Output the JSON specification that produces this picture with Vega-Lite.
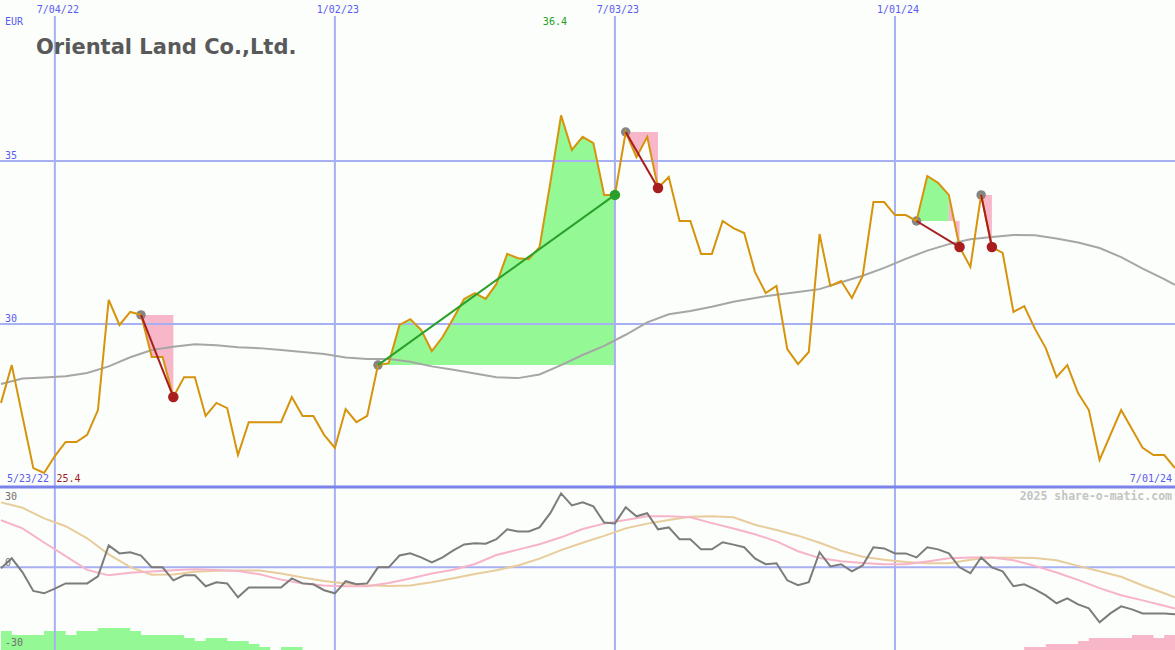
{
"$schema": "https://vega.github.io/schema/vega-lite/v6.json",
"autosize": {"type": "none"},
"padding": 0,
"width": 1175,
"height": 650,
"background": "#fbfefb",
"config": {"view": {"stroke": null}, "font": "DejaVu Sans Mono"},
"resolve": {"scale": {"y": "independent"}},
"datasets": {
"vg": [{"d": "2022-07-04", "lab": "7/04/22"}, {"d": "2023-01-02", "lab": "1/02/23"}, {"d": "2023-07-03", "lab": "7/03/23"}, {"d": "2024-01-01", "lab": "1/01/24"}],
"wk": [
{"d":"2022-05-30","c":27.58,"o":-0.4},{"d":"2022-06-06","c":28.74,"o":3.8},{"d":"2022-06-13","c":27.15,"o":-2.1},{"d":"2022-06-20","c":25.58,"o":-10},{"d":"2022-06-27","c":25.43,"o":-11},
{"d":"2022-07-04","c":25.95,"o":-9},{"d":"2022-07-11","c":26.38,"o":-6.8},{"d":"2022-07-18","c":26.38,"o":-6.8},{"d":"2022-07-25","c":26.6,"o":-6.8},{"d":"2022-08-01","c":27.36,"o":-3.8},
{"d":"2022-08-08","c":30.74,"o":9.3},{"d":"2022-08-15","c":29.97,"o":5.9},{"d":"2022-08-22","c":30.37,"o":6.4},{"d":"2022-08-29","c":30.28,"o":5},{"d":"2022-09-05","c":28.99,"o":0},
{"d":"2022-09-12","c":28.99,"o":0},{"d":"2022-09-19","c":27.76,"o":-5.5},{"d":"2022-09-26","c":28.37,"o":-3.4},{"d":"2022-10-03","c":28.37,"o":-3.4},{"d":"2022-10-10","c":27.18,"o":-8},
{"d":"2022-10-17","c":27.58,"o":-6.3},{"d":"2022-10-24","c":27.42,"o":-6.8},{"d":"2022-10-31","c":25.98,"o":-12.7},{"d":"2022-11-07","c":26.99,"o":-8.5},{"d":"2022-11-14","c":26.99,"o":-8.5},
{"d":"2022-11-21","c":26.99,"o":-8.5},{"d":"2022-11-28","c":26.99,"o":-8.5},{"d":"2022-12-05","c":27.76,"o":-4.7},{"d":"2022-12-12","c":27.18,"o":-6.8},{"d":"2022-12-19","c":27.18,"o":-7.2},
{"d":"2022-12-26","c":26.6,"o":-9.7},{"d":"2023-01-02","c":26.2,"o":-11},{"d":"2023-01-09","c":27.39,"o":-5.9},{"d":"2023-01-16","c":26.99,"o":-7.2},{"d":"2023-01-23","c":27.18,"o":-6.8},
{"d":"2023-01-30","c":28.74,"o":0},{"d":"2023-02-06","c":28.8,"o":0},{"d":"2023-02-13","c":29.97,"o":5},{"d":"2023-02-20","c":30.15,"o":5.9},{"d":"2023-02-27","c":29.82,"o":4.2},
{"d":"2023-03-06","c":29.17,"o":2.1},{"d":"2023-03-13","c":29.6,"o":4.2},{"d":"2023-03-20","c":30.18,"o":7.2},{"d":"2023-03-27","c":30.77,"o":9.7},{"d":"2023-04-03","c":30.95,"o":10.2},
{"d":"2023-04-10","c":30.77,"o":10},{"d":"2023-04-17","c":31.23,"o":11.9},{"d":"2023-04-24","c":32.15,"o":16.1},{"d":"2023-05-01","c":32.02,"o":15.2},{"d":"2023-05-08","c":31.99,"o":15.2},
{"d":"2023-05-15","c":32.36,"o":16.9},{"d":"2023-05-22","c":34.33,"o":22.9},{"d":"2023-05-29","c":36.4,"o":31.3},{"d":"2023-06-05","c":35.34,"o":26.2},{"d":"2023-06-12","c":35.74,"o":27.5},
{"d":"2023-06-19","c":35.55,"o":25.8},{"d":"2023-06-26","c":33.96,"o":19},{"d":"2023-07-03","c":33.96,"o":18.6},{"d":"2023-07-10","c":35.89,"o":25.4},{"d":"2023-07-17","c":35.12,"o":21.6},
{"d":"2023-07-24","c":35.74,"o":22.9},{"d":"2023-07-31","c":34.17,"o":16.1},{"d":"2023-08-07","c":34.51,"o":16.9},{"d":"2023-08-14","c":33.16,"o":11.9},{"d":"2023-08-21","c":33.16,"o":11.9},
{"d":"2023-08-28","c":32.15,"o":7.6},{"d":"2023-09-04","c":32.15,"o":7.6},{"d":"2023-09-11","c":33.16,"o":10.6},{"d":"2023-09-18","c":32.94,"o":9.6},{"d":"2023-09-25","c":32.79,"o":8.5},
{"d":"2023-10-02","c":31.6,"o":3.8},{"d":"2023-10-09","c":30.95,"o":1.3},{"d":"2023-10-16","c":31.17,"o":1.7},{"d":"2023-10-23","c":29.23,"o":-5.5},{"d":"2023-10-30","c":28.77,"o":-7.6},
{"d":"2023-11-06","c":29.14,"o":-6.3},{"d":"2023-11-13","c":32.76,"o":6.4},{"d":"2023-11-20","c":31.17,"o":0.4},{"d":"2023-11-27","c":31.32,"o":1.3},{"d":"2023-12-04","c":30.8,"o":-1.7},
{"d":"2023-12-11","c":31.47,"o":0.8},{"d":"2023-12-18","c":33.74,"o":8.5},{"d":"2023-12-25","c":33.74,"o":8},{"d":"2024-01-01","c":33.34,"o":5.9},{"d":"2024-01-08","c":33.34,"o":5.9},
{"d":"2024-01-15","c":33.16,"o":4.2},{"d":"2024-01-22","c":34.54,"o":8.5},{"d":"2024-01-29","c":34.33,"o":7.6},{"d":"2024-02-05","c":33.96,"o":5.9},{"d":"2024-02-12","c":32.36,"o":0},
{"d":"2024-02-19","c":31.75,"o":-2.5},{"d":"2024-02-26","c":33.96,"o":4.2},{"d":"2024-03-04","c":32.36,"o":0},{"d":"2024-03-11","c":32.18,"o":-1.7},{"d":"2024-03-18","c":30.37,"o":-8},
{"d":"2024-03-25","c":30.55,"o":-7.2},{"d":"2024-04-01","c":29.85,"o":-9.3},{"d":"2024-04-08","c":29.26,"o":-11.9},{"d":"2024-04-15","c":28.37,"o":-15.2},{"d":"2024-04-22","c":28.74,"o":-13.1},
{"d":"2024-04-29","c":27.88,"o":-15.7},{"d":"2024-05-06","c":27.36,"o":-17.4},{"d":"2024-05-13","c":25.83,"o":-23.3},{"d":"2024-05-20","c":26.6,"o":-19.5},{"d":"2024-05-27","c":27.36,"o":-16.5},
{"d":"2024-06-03","c":26.78,"o":-17.8},{"d":"2024-06-10","c":26.2,"o":-19.5},{"d":"2024-06-17","c":25.98,"o":-19.5},{"d":"2024-06-24","c":25.98,"o":-19.5},{"d":"2024-07-01","c":25.58,"o":-19.9}
],
"sm": [
{"d":"2022-05-30","m":28.16,"s1":19.9,"s2":27.5},{"d":"2022-06-13","m":28.33,"s1":16.5,"s2":25.2},{"d":"2022-06-27","m":28.36,"s1":10.5,"s2":20.7},{"d":"2022-07-11","m":28.4,"s1":4.7,"s2":17.4},
{"d":"2022-07-25","m":28.5,"s1":-1.1,"s2":12.3},{"d":"2022-08-08","m":28.7,"s1":-3.4,"s2":5.5},{"d":"2022-08-22","m":28.98,"s1":-2.3,"s2":0.1},{"d":"2022-09-05","m":29.2,"s1":-1.8,"s2":-3.1},
{"d":"2022-09-19","m":29.3,"s1":-1.2,"s2":-3},{"d":"2022-10-03","m":29.38,"s1":-0.8,"s2":-1.9},{"d":"2022-10-17","m":29.35,"s1":-1.1,"s2":-1.5},{"d":"2022-10-31","m":29.29,"s1":-1.6,"s2":-1.3},
{"d":"2022-11-14","m":29.26,"s1":-2.9,"s2":-1.3},{"d":"2022-11-28","m":29.2,"s1":-5.2,"s2":-2.6},{"d":"2022-12-12","m":29.14,"s1":-6.9,"s2":-4.3},{"d":"2022-12-26","m":29.08,"s1":-7.7,"s2":-5.8},
{"d":"2023-01-09","m":28.97,"s1":-8,"s2":-6.8},{"d":"2023-01-23","m":28.93,"s1":-8,"s2":-7.6},{"d":"2023-02-06","m":28.93,"s1":-6.6,"s2":-7.9},{"d":"2023-02-20","m":28.84,"s1":-4.7,"s2":-7.7},
{"d":"2023-03-06","m":28.7,"s1":-2.6,"s2":-6.3},{"d":"2023-03-20","m":28.6,"s1":-1,"s2":-4.6},{"d":"2023-04-03","m":28.48,"s1":1.4,"s2":-2.8},{"d":"2023-04-17","m":28.37,"s1":5.2,"s2":-1.2},
{"d":"2023-05-01","m":28.34,"s1":7.5,"s2":0.8},{"d":"2023-05-15","m":28.45,"s1":9.8,"s2":3.7},{"d":"2023-05-29","m":28.74,"s1":12.7,"s2":7.3},{"d":"2023-06-12","m":29.05,"s1":16.2,"s2":10.4},
{"d":"2023-06-26","m":29.33,"s1":18.5,"s2":13.3},{"d":"2023-07-10","m":29.67,"s1":20,"s2":16.5},{"d":"2023-07-24","m":30.05,"s1":21.6,"s2":18.5},{"d":"2023-08-07","m":30.3,"s1":21.6,"s2":20},
{"d":"2023-08-21","m":30.4,"s1":21.2,"s2":21.4},{"d":"2023-09-04","m":30.53,"s1":18.7,"s2":21.6},{"d":"2023-09-18","m":30.68,"s1":16.4,"s2":21.2},{"d":"2023-10-02","m":30.8,"s1":14,"s2":18},
{"d":"2023-10-16","m":30.9,"s1":11,"s2":15.8},{"d":"2023-10-30","m":30.98,"s1":6.8,"s2":13.4},{"d":"2023-11-13","m":31.07,"s1":3.9,"s2":10.4},{"d":"2023-11-27","m":31.28,"s1":2.6,"s2":7},
{"d":"2023-12-11","m":31.48,"s1":1.8,"s2":4.5},{"d":"2023-12-25","m":31.72,"s1":1.3,"s2":3.2},{"d":"2024-01-08","m":32.0,"s1":1.3,"s2":2.3},{"d":"2024-01-22","m":32.25,"s1":2.5,"s2":1.7},
{"d":"2024-02-05","m":32.45,"s1":3.8,"s2":1.7},{"d":"2024-02-19","m":32.6,"s1":4.2,"s2":3.2},{"d":"2024-03-04","m":32.67,"s1":4.2,"s2":4},{"d":"2024-03-18","m":32.73,"s1":3,"s2":4.1},
{"d":"2024-04-01","m":32.72,"s1":0.6,"s2":3.9},{"d":"2024-04-15","m":32.62,"s1":-2.2,"s2":3},{"d":"2024-04-29","m":32.5,"s1":-5.3,"s2":0.6},{"d":"2024-05-13","m":32.33,"s1":-8.8,"s2":-1.7},
{"d":"2024-05-27","m":32.05,"s1":-11.8,"s2":-4},{"d":"2024-06-10","m":31.7,"s1":-14,"s2":-7.7},{"d":"2024-06-24","m":31.38,"s1":-16.3,"s2":-11},{"d":"2024-07-01","m":31.2,"s1":-17.4,"s2":-12.7}
],
"hu": [
{"d":"2022-05-30","v":8.0},{"d":"2022-06-06","v":6.4},{"d":"2022-06-13","v":6.4},{"d":"2022-06-20","v":6.4},{"d":"2022-06-27","v":8.0},{"d":"2022-07-04","v":8.0},
{"d":"2022-07-11","v":6.4},{"d":"2022-07-18","v":8.0},{"d":"2022-07-25","v":8.0},{"d":"2022-08-01","v":9.3},{"d":"2022-08-08","v":9.3},{"d":"2022-08-15","v":9.3},
{"d":"2022-08-22","v":8.0},{"d":"2022-08-29","v":6.4},{"d":"2022-09-05","v":6.4},{"d":"2022-09-12","v":6.4},{"d":"2022-09-19","v":6.4},{"d":"2022-09-26","v":5.1},
{"d":"2022-10-03","v":3.8},{"d":"2022-10-10","v":5.1},{"d":"2022-10-17","v":5.1},{"d":"2022-10-24","v":3.8},{"d":"2022-10-31","v":3.8},{"d":"2022-11-07","v":2.5},
{"d":"2022-11-14","v":1.3},{"d":"2022-11-21","v":0},{"d":"2022-11-28","v":1.3},{"d":"2022-12-05","v":1.3},{"d":"2022-12-12","v":0}
],
"hd": [
{"d":"2024-03-18","v":0},{"d":"2024-03-25","v":1.3},{"d":"2024-04-01","v":1.3},{"d":"2024-04-08","v":2.5},{"d":"2024-04-15","v":2.5},{"d":"2024-04-22","v":2.5},
{"d":"2024-04-29","v":3.8},{"d":"2024-05-06","v":5.1},{"d":"2024-05-13","v":5.1},{"d":"2024-05-20","v":5.1},{"d":"2024-05-27","v":5.1},{"d":"2024-06-03","v":6.4},
{"d":"2024-06-10","v":6.4},{"d":"2024-06-17","v":5.1},{"d":"2024-06-24","v":6.4},{"d":"2024-07-01","v":6.4}
],
"tl": [
{"t":"u1","k":"up","e":"s","d":"2023-01-30","p":28.74},{"t":"u1","k":"up","e":"e","d":"2023-07-03","p":33.96},
{"t":"d1","k":"down","e":"s","d":"2022-08-29","p":30.28},{"t":"d1","k":"down","e":"e","d":"2022-09-19","p":27.76},
{"t":"d2","k":"down","e":"s","d":"2023-07-10","p":35.89},{"t":"d2","k":"down","e":"e","d":"2023-07-31","p":34.17},
{"t":"d3","k":"down","e":"s","d":"2024-01-15","p":33.16},{"t":"d3","k":"down","e":"e","d":"2024-02-12","p":32.36},
{"t":"d4","k":"down","e":"s","d":"2024-02-26","p":33.96},{"t":"d4","k":"down","e":"e","d":"2024-03-04","p":32.36}
]
},
"layer": [
{
"layer": [
{"data": {"name": "wk"}, "transform": [{"filter": {"field": "d", "range": [{"year":2023,"month":1,"date":30,"utc":true},{"year":2023,"month":7,"date":3,"utc":true}]}}],
 "mark": {"type": "area", "color": "#94f894", "opacity": 1},
 "encoding": {"x": {"field": "d", "type": "temporal", "scale": {"type": "utc", "domain": [{"year":2022,"month":5,"date":29,"hours":8,"minutes":24,"utc":true},{"year":2024,"month":7,"date":1,"utc":true}], "nice": false}, "axis": null},
  "y": {"field": "c", "type": "quantitative", "scale": {"domain": [25, 39.939], "range": [487, 0], "nice": false, "zero": false}, "axis": null}, "y2": {"datum": 28.74}}},
{"data": {"name": "wk"}, "transform": [{"filter": {"field": "d", "range": [{"year":2022,"month":8,"date":29,"utc":true},{"year":2022,"month":9,"date":19,"utc":true}]}}],
 "mark": {"type": "area", "color": "#f8b6c9", "opacity": 1},
 "encoding": {"x": {"field": "d", "type": "temporal", "axis": null}, "y": {"field": "c", "type": "quantitative", "axis": null}, "y2": {"datum": 30.28}}},
{"data": {"name": "wk"}, "transform": [{"filter": {"field": "d", "range": [{"year":2023,"month":7,"date":10,"utc":true},{"year":2023,"month":7,"date":31,"utc":true}]}}],
 "mark": {"type": "area", "color": "#f8b6c9", "opacity": 1},
 "encoding": {"x": {"field": "d", "type": "temporal", "axis": null}, "y": {"field": "c", "type": "quantitative", "axis": null}, "y2": {"datum": 35.89}}},
{"data": {"name": "wk"}, "transform": [{"filter": {"field": "d", "range": [{"year":2024,"month":1,"date":15,"utc":true},{"year":2024,"month":2,"date":5,"utc":true}]}}],
 "mark": {"type": "area", "color": "#94f894", "opacity": 1},
 "encoding": {"x": {"field": "d", "type": "temporal", "axis": null}, "y": {"field": "c", "type": "quantitative", "axis": null}, "y2": {"datum": 33.16}}},
{"data": {"name": "wk"}, "transform": [{"filter": {"field": "d", "range": [{"year":2024,"month":2,"date":5,"utc":true},{"year":2024,"month":2,"date":12,"utc":true}]}}],
 "mark": {"type": "area", "color": "#f8b6c9", "opacity": 1},
 "encoding": {"x": {"field": "d", "type": "temporal", "axis": null}, "y": {"field": "c", "type": "quantitative", "axis": null}, "y2": {"datum": 33.16}}},
{"data": {"name": "wk"}, "transform": [{"filter": {"field": "d", "range": [{"year":2024,"month":2,"date":26,"utc":true},{"year":2024,"month":3,"date":4,"utc":true}]}}],
 "mark": {"type": "area", "color": "#f8b6c9", "opacity": 1},
 "encoding": {"x": {"field": "d", "type": "temporal", "axis": null}, "y": {"field": "c", "type": "quantitative", "axis": null}, "y2": {"datum": 33.96}}},
{"data": {"name": "vg"}, "mark": {"type": "rule", "color": "#a6b0f2", "strokeWidth": 2},
 "encoding": {"x": {"field": "d", "type": "temporal", "axis": null}, "y": {"datum": 39.448, "type": "quantitative", "axis": null}, "y2": {"datum": 25}}},
{"data": {"name": "vg"}, "mark": {"type": "text", "align": "center", "baseline": "alphabetic", "dx": 3, "font": "DejaVu Sans Mono", "fontSize": 10, "color": "#5a5af0"},
 "encoding": {"x": {"field": "d", "type": "temporal", "axis": null}, "y": {"datum": 39.54, "type": "quantitative", "axis": null}, "text": {"field": "lab"}}},
{"data": {"values": [{"v": 30}, {"v": 35}]}, "mark": {"type": "rule", "color": "#a6b0f2", "strokeWidth": 2},
 "encoding": {"y": {"field": "v", "type": "quantitative", "axis": null}}},
{"data": {"values": [{"v": 30}, {"v": 35}]}, "mark": {"type": "text", "align": "left", "baseline": "alphabetic", "dx": 5, "dy": -2, "font": "DejaVu Sans Mono", "fontSize": 10, "color": "#5a5af0"},
 "encoding": {"x": {"datum": {"year":2022,"month":5,"date":29,"hours":8,"minutes":24,"utc":true}, "type": "temporal", "axis": null}, "y": {"field": "v", "type": "quantitative", "axis": null}, "text": {"field": "v", "type": "quantitative"}}},
{"data": {"name": "sm"}, "mark": {"type": "line", "color": "#a6a6a6", "strokeWidth": 2},
 "encoding": {"x": {"field": "d", "type": "temporal", "axis": null}, "y": {"field": "m", "type": "quantitative", "axis": null}}},
{"data": {"name": "tl"}, "transform": [{"filter": "datum.e == 's'"}], "mark": {"type": "circle", "color": "#858585", "size": 90, "opacity": 1},
 "encoding": {"x": {"field": "d", "type": "temporal", "axis": null}, "y": {"field": "p", "type": "quantitative", "axis": null}}},
{"data": {"name": "wk"}, "mark": {"type": "line", "color": "#d6930c", "strokeWidth": 2},
 "encoding": {"x": {"field": "d", "type": "temporal", "axis": null}, "y": {"field": "c", "type": "quantitative", "axis": null}}},
{"data": {"name": "tl"}, "mark": {"type": "line", "strokeWidth": 2},
 "encoding": {"x": {"field": "d", "type": "temporal", "axis": null}, "y": {"field": "p", "type": "quantitative", "axis": null}, "detail": {"field": "t"},
  "color": {"field": "k", "type": "nominal", "scale": {"domain": ["up", "down"], "range": ["#2a9f2a", "#a81e1e"]}, "legend": null}}},
{"data": {"name": "tl"}, "transform": [{"filter": "datum.e == 'e'"}], "mark": {"type": "circle", "size": 110, "opacity": 1},
 "encoding": {"x": {"field": "d", "type": "temporal", "axis": null}, "y": {"field": "p", "type": "quantitative", "axis": null},
  "color": {"field": "k", "type": "nominal", "legend": null}}},
{"data": {"values": [{"t": "Oriental Land Co.,Ltd."}]}, "mark": {"type": "text", "align": "left", "baseline": "alphabetic", "font": "DejaVu Sans", "fontWeight": "bold", "fontSize": 21, "color": "#595959"},
 "encoding": {"x": {"datum": {"year":2022,"month":6,"date":21,"hours":18,"utc":true}, "type": "temporal", "axis": null}, "y": {"datum": 38.28, "type": "quantitative", "axis": null}, "text": {"field": "t"}}},
{"data": {"values": [{"t": "EUR"}]}, "mark": {"type": "text", "align": "left", "baseline": "alphabetic", "dx": 5, "font": "DejaVu Sans Mono", "fontSize": 10, "color": "#5a5af0"},
 "encoding": {"x": {"datum": {"year":2022,"month":5,"date":29,"hours":8,"minutes":24,"utc":true}, "type": "temporal", "axis": null}, "y": {"datum": 39.17, "type": "quantitative", "axis": null}, "text": {"field": "t"}}},
{"data": {"values": [{"t": "36.4"}]}, "mark": {"type": "text", "align": "center", "baseline": "alphabetic", "font": "DejaVu Sans Mono", "fontSize": 10, "color": "#22a022"},
 "encoding": {"x": {"datum": {"year":2023,"month":5,"date":25,"utc":true}, "type": "temporal", "axis": null}, "y": {"datum": 39.17, "type": "quantitative", "axis": null}, "text": {"field": "t"}}},
{"data": {"values": [{"t": "5/23/22"}]}, "mark": {"type": "text", "align": "left", "baseline": "alphabetic", "dx": 7, "font": "DejaVu Sans Mono", "fontSize": 10, "color": "#5a5af0"},
 "encoding": {"x": {"datum": {"year":2022,"month":5,"date":29,"hours":8,"minutes":24,"utc":true}, "type": "temporal", "axis": null}, "y": {"datum": 25.15, "type": "quantitative", "axis": null}, "text": {"field": "t"}}},
{"data": {"values": [{"t": "25.4"}]}, "mark": {"type": "text", "align": "left", "baseline": "alphabetic", "font": "DejaVu Sans Mono", "fontSize": 10, "color": "#a01c1c"},
 "encoding": {"x": {"datum": {"year":2022,"month":7,"date":5,"utc":true}, "type": "temporal", "axis": null}, "y": {"datum": 25.15, "type": "quantitative", "axis": null}, "text": {"field": "t"}}},
{"data": {"values": [{"t": "7/01/24"}]}, "mark": {"type": "text", "align": "right", "baseline": "alphabetic", "dx": -3, "font": "DejaVu Sans Mono", "fontSize": 10, "color": "#5a5af0"},
 "encoding": {"x": {"datum": {"year":2024,"month":7,"date":1,"utc":true}, "type": "temporal", "axis": null}, "y": {"datum": 25.15, "type": "quantitative", "axis": null}, "text": {"field": "t"}}}
]
},
{
"layer": [
{"data": {"name": "hu"}, "mark": {"type": "area", "color": "#94f894", "interpolate": "step-after", "opacity": 1},
 "encoding": {"x": {"field": "d", "type": "temporal", "axis": null}, "y": {"field": "v", "type": "quantitative", "scale": {"domain": [0, 69], "range": [650, 487], "nice": false}, "axis": null}}},
{"data": {"name": "hd"}, "mark": {"type": "area", "color": "#f8b6c9", "interpolate": "step-after", "opacity": 1},
 "encoding": {"x": {"field": "d", "type": "temporal", "axis": null}, "y": {"field": "v", "type": "quantitative", "axis": null}}}
]
},
{
"layer": [
{"data": {"name": "vg"}, "mark": {"type": "rule", "color": "#a6b0f2", "strokeWidth": 2},
 "encoding": {"x": {"field": "d", "type": "temporal", "axis": null}, "y": {"datum": 34, "type": "quantitative", "scale": {"domain": [-35, 34], "range": [650, 487], "nice": false, "zero": false}, "axis": null}, "y2": {"datum": -35}}},
{"data": {"values": [{"v": 0}]}, "mark": {"type": "rule", "color": "#a6b0f2", "strokeWidth": 2},
 "encoding": {"y": {"field": "v", "type": "quantitative", "axis": null}}},
{"data": {"name": "sm"}, "mark": {"type": "line", "color": "#e8cc9c", "strokeWidth": 2},
 "encoding": {"x": {"field": "d", "type": "temporal", "axis": null}, "y": {"field": "s2", "type": "quantitative", "axis": null}}},
{"data": {"name": "sm"}, "mark": {"type": "line", "color": "#f7b4c9", "strokeWidth": 2},
 "encoding": {"x": {"field": "d", "type": "temporal", "axis": null}, "y": {"field": "s1", "type": "quantitative", "axis": null}}},
{"data": {"name": "wk"}, "mark": {"type": "line", "color": "#7c7c7c", "strokeWidth": 2},
 "encoding": {"x": {"field": "d", "type": "temporal", "axis": null}, "y": {"field": "o", "type": "quantitative", "axis": null}}},
{"data": {"values": [{"t": "30"}]}, "mark": {"type": "text", "align": "left", "baseline": "alphabetic", "dx": 5, "dy": 4, "font": "DejaVu Sans Mono", "fontSize": 10, "color": "#707070"},
 "encoding": {"x": {"datum": {"year":2022,"month":5,"date":29,"hours":8,"minutes":24,"utc":true}, "type": "temporal", "axis": null}, "y": {"datum": 30, "type": "quantitative", "axis": null}, "text": {"field": "t"}}},
{"data": {"values": [{"t": "0"}]}, "mark": {"type": "text", "align": "left", "baseline": "alphabetic", "dx": 5, "dy": -1, "font": "DejaVu Sans Mono", "fontSize": 10, "color": "#707070"},
 "encoding": {"x": {"datum": {"year":2022,"month":5,"date":29,"hours":8,"minutes":24,"utc":true}, "type": "temporal", "axis": null}, "y": {"datum": 0, "type": "quantitative", "axis": null}, "text": {"field": "t"}}},
{"data": {"values": [{"t": "-30"}]}, "mark": {"type": "text", "align": "left", "baseline": "alphabetic", "dx": 5, "dy": 8, "font": "DejaVu Sans Mono", "fontSize": 10, "color": "#707070"},
 "encoding": {"x": {"datum": {"year":2022,"month":5,"date":29,"hours":8,"minutes":24,"utc":true}, "type": "temporal", "axis": null}, "y": {"datum": -30, "type": "quantitative", "axis": null}, "text": {"field": "t"}}},
{"data": {"values": [{"t": "2025 share-o-matic.com"}]}, "mark": {"type": "text", "align": "right", "baseline": "alphabetic", "dx": -3, "font": "DejaVu Sans Mono", "fontWeight": "bold", "fontSize": 11.5, "color": "#c4c4c4"},
 "encoding": {"x": {"datum": {"year":2024,"month":7,"date":1,"utc":true}, "type": "temporal", "axis": null}, "y": {"datum": 28.5, "type": "quantitative", "axis": null}, "text": {"field": "t"}}},
{"data": {"values": [{"v": 34}]}, "mark": {"type": "rule", "color": "#7b83ea", "strokeWidth": 3},
 "encoding": {"y": {"field": "v", "type": "quantitative", "axis": null}}}
]
}
]
}
